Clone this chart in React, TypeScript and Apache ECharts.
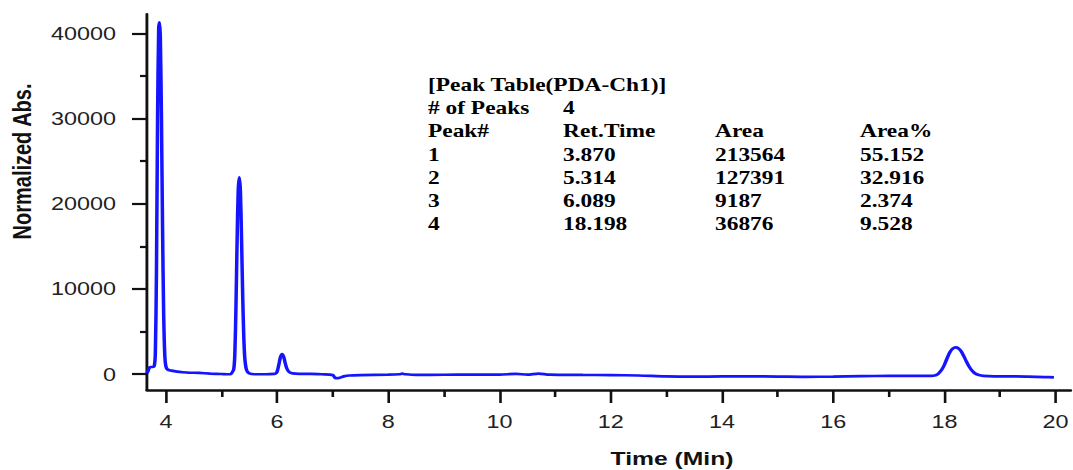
import React, { useEffect, useRef } from "react";
import * as echarts from "echarts";

// Horizontal stretch of the reference picture
const K = 1.3;
const FULL_W = 1073;
const FULL_H = 470;
const W = FULL_W / K;

// Chromatogram trace (time in min, normalized absorbance)
const timeMin: number[] = [
  3.66, 3.68, 3.7, 3.72, 3.76, 3.79, 3.81, 3.83, 3.85, 3.87, 3.885, 3.9, 3.92, 3.94, 3.96, 3.98,
  4.0, 4.03, 4.1, 4.2, 4.3, 4.4, 4.6, 4.8, 5.0, 5.15,
  5.18, 5.22, 5.24, 5.26, 5.28, 5.3, 5.32, 5.34, 5.36, 5.38, 5.4, 5.42, 5.45, 5.5, 5.6,
  5.8, 5.95, 5.98, 6.0, 6.03, 6.06, 6.09, 6.12, 6.15, 6.18, 6.22, 6.28, 6.4, 6.6, 6.8,
  7.0, 7.05, 7.1, 7.2, 7.3, 7.5, 8.0, 8.2, 8.25, 8.3, 8.5, 9.0, 9.5,
  10.0, 10.3, 10.5, 10.7, 10.9, 11.5, 12.0, 12.5, 13.0, 13.5, 14.0, 14.5, 15.0, 15.5, 16.0, 16.5,
  17.0, 17.5, 17.7, 17.8, 17.88, 17.95, 18.0, 18.05, 18.1, 18.15, 18.2, 18.25, 18.3, 18.35, 18.4,
  18.45, 18.5, 18.55, 18.62, 18.7, 18.9, 19.2, 19.5, 19.8, 19.97,
];
const absorbance: number[] = [
  100, 400, 750, 850, 850, 950, 2500, 12000, 30000, 40500, 41300, 39500, 30000, 17000, 7000, 2200,
  900, 550, 420, 300, 230, 200, 150, 80, 30, 0,
  100, 600, 2500, 8000, 15500, 21500, 23100, 21500, 16000, 9500, 4500, 1800, 500, 100, 0,
  0, 50, 100, 300, 1100, 2000, 2350, 2000, 1200, 600, 250, 100, 50, 50, 0,
  -100, -450, -450, -250, -150, -100, -50, 0, 60, 0, -80, -60, -40,
  -50, 50, -50, 80, -50, -80, -100, -150, -250, -280, -260, -250, -270, -300, -280, -220,
  -200, -200, -200, -180, 0, 500, 1100, 1900, 2600, 3000, 3150, 3050, 2700, 2100, 1450,
  850, 400, 100, -100, -200, -250, -250, -280, -330, -360,
];

// Axis ticks
const xMajorTicks: number[] = [4, 6, 8, 10, 12, 14, 16, 18, 20];
const xMinorTicks: number[] = [5, 7, 9, 11, 13, 15, 17, 19];
const yMajorTicks: number[] = [0, 10000, 20000, 30000, 40000];
const yMinorTicks: number[] = [5000, 15000, 25000, 35000];

// Peak table
const tableTitle = "[Peak Table(PDA-Ch1)]";
const peakCountLabel = "# of Peaks";
const peakCount = "4";
const tableHeaders: string[] = ["Peak#", "Ret.Time", "Area", "Area%"];
const peakNums: string[] = ["1", "2", "3", "4"];
const retTimes: string[] = ["3.870", "5.314", "6.089", "18.198"];
const areas: string[] = ["213564", "127391", "9187", "36876"];
const areaPcts: string[] = ["55.152", "32.916", "2.374", "9.528"];

export default function App() {
  const ref = useRef<HTMLDivElement>(null);

  useEffect(() => {
    if (!ref.current) return;
    const chart = echarts.init(ref.current, undefined, { renderer: "svg" });

    const colX = [428 / K, 563 / K, 715 / K, 860 / K];
    const rowY = [85, 108, 131, 155, 178, 201, 224];
    const tableFont = 'bold 18px "Liberation Serif"';
    const txt = (text: string, x: number, y: number, font: string, align = "left") => ({
      type: "text",
      x,
      y,
      silent: true,
      style: {
        text,
        font,
        fill: "#000",
        align,
        verticalAlign: "middle",
        textAlign: align,
        textVerticalAlign: "middle",
      },
    });

    const tableEls: any[] = [];
    tableEls.push(txt(tableTitle, colX[0], rowY[0], tableFont));
    tableEls.push(txt(peakCountLabel, colX[0], rowY[1], tableFont));
    tableEls.push(txt(peakCount, colX[1], rowY[1], tableFont));
    tableHeaders.forEach((h, i) => tableEls.push(txt(h, colX[i], rowY[2], tableFont)));
    peakNums.forEach((p, r) => {
      const cells = [p, retTimes[r], areas[r], areaPcts[r]];
      cells.forEach((c, i) => tableEls.push(txt(c, colX[i], rowY[3 + r], tableFont)));
    });

    const yTitle = {
      type: "text",
      x: 22 / K,
      y: 161.5,
      rotation: Math.PI / 2,
      silent: true,
      style: {
        text: "Normalized Abs.",
        font: 'bold 20px "Liberation Sans"',
        fill: "#111",
        align: "center",
        verticalAlign: "middle",
        textAlign: "center",
        textVerticalAlign: "middle",
      },
    };
    const xTitle = {
      type: "text",
      x: 672 / K,
      y: 459,
      silent: true,
      style: {
        text: "Time (Min)",
        font: 'bold 19px "Liberation Sans"',
        fill: "#111",
        align: "center",
        verticalAlign: "middle",
        textAlign: "center",
        textVerticalAlign: "middle",
      },
    };

    const xMin = 3.66;
    const xMax = 20.27;
    const yMin = -1850;
    const yMax = 42270;
    const axisColor = "#111";
    const labelStyle = {
      fontFamily: "Liberation Sans",
      fontSize: 18,
      color: "#222",
      formatter: (v: number) => String(v),
    };

    chart.setOption({
      animation: false,
      backgroundColor: "#fff",
      grid: { left: 147 / K, right: 0, top: 14, bottom: 80, containLabel: false },
      xAxis: [
        {
          type: "value",
          min: xMin,
          max: xMax,
          splitLine: { show: false },
          axisLine: { show: true, onZero: false, lineStyle: { color: axisColor, width: 2.5 } },
          axisTick: {
            show: true,
            customValues: xMajorTicks,
            length: 13,
            lineStyle: { color: axisColor, width: 2 },
          },
          axisLabel: {
            ...labelStyle,
            customValues: xMajorTicks,
            margin: 23,
            showMinLabel: true,
            showMaxLabel: true,
          },
        },
        {
          type: "value",
          min: xMin,
          max: xMax,
          position: "bottom",
          splitLine: { show: false },
          axisLine: { show: false, onZero: false },
          axisTick: {
            show: true,
            customValues: xMinorTicks,
            length: 7,
            lineStyle: { color: axisColor, width: 2 },
          },
          axisLabel: { show: false },
        },
      ],
      yAxis: [
        {
          type: "value",
          min: yMin,
          max: yMax,
          splitLine: { show: false },
          axisLine: { show: true, onZero: false, lineStyle: { color: axisColor, width: 2.2 } },
          axisTick: {
            show: true,
            customValues: yMajorTicks,
            length: 15 / K,
            lineStyle: { color: axisColor, width: 2.2 },
          },
          axisLabel: {
            ...labelStyle,
            customValues: yMajorTicks,
            margin: 31 / K,
          },
        },
        {
          type: "value",
          min: yMin,
          max: yMax,
          position: "left",
          splitLine: { show: false },
          axisLine: { show: false, onZero: false },
          axisTick: {
            show: true,
            customValues: yMinorTicks,
            length: 7 / K,
            lineStyle: { color: axisColor, width: 2.2 },
          },
          axisLabel: { show: false },
        },
      ],
      series: [
        {
          type: "line",
          xAxisIndex: 0,
          yAxisIndex: 0,
          data: timeMin.map((t, i) => [t, absorbance[i]]),
          showSymbol: false,
          smooth: 0.3,
          lineStyle: { color: "#1414ff", width: 2.7 },
          z: 3,
        },
      ],
      graphic: [yTitle, xTitle, ...tableEls],
    });

    return () => chart.dispose();
  }, []);

  return (
    <div
      style={{
        position: "fixed",
        left: 0,
        top: 0,
        width: FULL_W,
        height: FULL_H,
        overflow: "hidden",
        background: "#fff",
      }}
    >
      <div
        ref={ref}
        style={{
          width: W,
          height: FULL_H,
          transform: `scaleX(${K})`,
          transformOrigin: "0 0",
        }}
      />
    </div>
  );
}
